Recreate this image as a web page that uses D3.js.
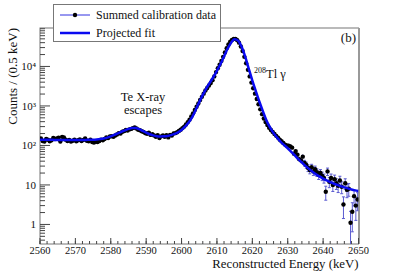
<!DOCTYPE html>
<html><head><meta charset="utf-8">
<script src="https://cdn.jsdelivr.net/npm/d3@7"></script>
<style>body{margin:0;background:#fff}</style>
</head><body><svg id="c" width="399" height="272" font-family="Liberation Serif, DejaVu Serif, serif"></svg>
<script>
// ---- data ----
const dataStart = 2560.25, binWidth = 0.5;
const dataCounts = [
150,130,125,145,140,128,135,155,145,150,158,125,165,160,140,130,138,125,132,140,
128,135,142,130,138,150,132,128,140,122,118,125,122,130,140,135,145,160,155,168,
172,165,178,190,205,200,222,230,245,240,255,262,275,285,268,250,242,228,220,205,
198,210,185,192,178,165,182,155,170,178,165,182,160,185,178,200,205,215,232,250,
275,300,340,390,450,540,650,790,950,1150,1420,1700,2050,2450,2850,3300,3800,4500,5600,7200,
9000,11000,13800,17500,22500,29000,36000,42000,47000,50000,49500,46000,40000,32000,24500,17500,12000,8200,5600,3900,
2800,2050,1500,1100,820,620,480,390,330,280,245,220,195,175,158,140,128,115,105,100,
98,95,88,62,72,58,45,42,52,36,32,27,24,28,22,25,21,18,20,17,
15,6.7,22,12,15,10,14,11,9.5,13,9,3.2,11,7.5,8,1.1,2.1,5.2,3.0,4.3
];
const fitEnergy = d3.range(2560, 2651, 1);
const fitValues = [
140,140,139,139,138,138,138,137,137,137,
137,137,137,138,139,140,142,145,150,158,
170,185,203,222,242,262,278,275,258,234,
210,192,180,172,169,170,174,182,196,215,
245,300,380,520,800,1250,1900,2800,3900,5400,
7800,11500,18000,28000,40000,48500,45000,31000,17500,8700,
4400,2350,1280,730,430,285,205,158,124,102,
85,69,56,45,37,30.5,25.5,21.5,18.5,16.5,
14.5,13,11.8,10.8,10,9.3,8.7,8.2,7.7,7.3,7
];
const xTicks = [2560,2570,2580,2590,2600,2610,2620,2630,2640,2650];
const yTicks = [1,10,100,1000,10000];
const yTickLabels = ["1","10","10²","10³","10⁴"];

// ---- layout ----
const svg = d3.select("#c");
const L = 40, R = 358.5, T = 28, B = 244;
const x = d3.scaleLinear().domain([2560, 2650]).range([L, R]);
const y = d3.scaleLog().domain([0.32, 94000]).range([B, T]);

svg.append("defs").append("clipPath").attr("id","clip")
  .append("rect").attr("x",L).attr("y",T).attr("width",R-L).attr("height",B-T);

// frame
svg.append("rect").attr("x",L).attr("y",T).attr("width",R-L).attr("height",B-T)
  .attr("fill","none").attr("stroke","#777").attr("stroke-width",1);
svg.append("line").attr("x1",R+0.5).attr("x2",R+0.5).attr("y1",T).attr("y2",B)
  .attr("stroke","#999").attr("stroke-width",2);

// x axis ticks (inside)
const xMinor = d3.range(2560, 2651, 2);
const gx = svg.append("g");
gx.selectAll("line.mn").data(xMinor).join("line")
  .attr("x1",d=>x(d)).attr("x2",d=>x(d)).attr("y1",B).attr("y2",B-3)
  .attr("stroke","#444").attr("stroke-width",1);
gx.selectAll("line.mj").data(xTicks).join("line")
  .attr("x1",d=>x(d)).attr("x2",d=>x(d)).attr("y1",B).attr("y2",B-6)
  .attr("stroke","#444").attr("stroke-width",1);
gx.selectAll("text").data(xTicks).join("text")
  .attr("x",d=>x(d)).attr("y",B+9.5).attr("text-anchor","middle")
  .attr("font-size",10.5).attr("fill","#111").text(d=>d);

// y axis ticks (inside)
const yMinor = [];
for (let e = -1; e <= 4; e++) for (let m = 2; m <= 9; m++) {
  const v = m * Math.pow(10, e);
  if (v >= 0.32 && v <= 94000) yMinor.push(v);
}
const gy = svg.append("g");
gy.selectAll("line.mn").data(yMinor).join("line")
  .attr("x1",L).attr("x2",L+5).attr("y1",d=>y(d)).attr("y2",d=>y(d))
  .attr("stroke","#444").attr("stroke-width",1);
gy.selectAll("line.mj").data(yTicks).join("line")
  .attr("x1",L).attr("x2",L+10).attr("y1",d=>y(d)).attr("y2",d=>y(d))
  .attr("stroke","#444").attr("stroke-width",1);
gy.selectAll("text").data(yTicks).join("text")
  .attr("x",L-4).attr("y",d=>y(d)+4).attr("text-anchor","end")
  .attr("font-size",11).attr("fill","#111").text((d,i)=>yTickLabels[i]);

// axis titles
svg.append("text").attr("transform",`translate(17,${T}) rotate(-90)`)
  .attr("text-anchor","end").attr("font-size",13).attr("fill","#111")
  .text("Counts / (0.5 keV)");
svg.append("text").attr("x",R).attr("y",267.5).attr("text-anchor","end")
  .attr("font-size",12.8).attr("fill","#111").text("Reconstructed Energy (keV)");

// data
const pts = dataCounts.map((v,i)=>({e: dataStart + i*binWidth, v}));
const plot = svg.append("g").attr("clip-path","url(#clip)");
plot.selectAll("line.err").data(pts).join("line")
  .attr("x1",d=>x(d.e)).attr("x2",d=>x(d.e))
  .attr("y1",d=>y(d.v + Math.sqrt(d.v)))
  .attr("y2",d=>y(Math.max(0.01, d.v - Math.sqrt(d.v))))
  .attr("stroke","#5a5ad0").attr("stroke-width",1);
const capw = 1.5;
plot.selectAll("line.cu").data(pts.filter(d=>d.v<40)).join("line")
  .attr("x1",d=>x(d.e)-capw).attr("x2",d=>x(d.e)+capw)
  .attr("y1",d=>y(d.v + Math.sqrt(d.v))).attr("y2",d=>y(d.v + Math.sqrt(d.v)))
  .attr("stroke","#5a5ad0").attr("stroke-width",1);
plot.selectAll("line.cl").data(pts.filter(d=>d.v<40 && d.v-Math.sqrt(d.v)>0.3)).join("line")
  .attr("x1",d=>x(d.e)-capw).attr("x2",d=>x(d.e)+capw)
  .attr("y1",d=>y(d.v - Math.sqrt(d.v))).attr("y2",d=>y(d.v - Math.sqrt(d.v)))
  .attr("stroke","#5a5ad0").attr("stroke-width",1);
plot.selectAll("circle").data(pts).join("circle")
  .attr("cx",d=>x(d.e)).attr("cy",d=>y(d.v)).attr("r",2.2).attr("fill","#000");

// fit
const fitPts = fitEnergy.map((e,i)=>[e, fitValues[i]]);
plot.append("path").datum(fitPts)
  .attr("d", d3.line().x(d=>x(d[0])).y(d=>y(d[1])).curve(d3.curveMonotoneX))
  .attr("fill","none").attr("stroke","#0a0af0").attr("stroke-width",2.5);

// annotations
svg.append("text").attr("x",143).attr("y",101).attr("text-anchor","middle")
  .attr("font-size",12.5).attr("fill","#111").text("Te X-ray");
svg.append("text").attr("x",143).attr("y",114).attr("text-anchor","middle")
  .attr("font-size",12.5).attr("fill","#111").text("escapes");
const tl = svg.append("text").attr("x",254).attr("y",78).attr("font-size",12.5).attr("fill","#111");
tl.append("tspan").attr("font-size",8).attr("dy",-5).text("208");
tl.append("tspan").attr("dy",5).text("Tl γ");
svg.append("text").attr("x",356).attr("y",42).attr("text-anchor","end")
  .attr("font-size",13).attr("fill","#111").text("(b)");

// legend
const lg = svg.append("g");
lg.append("rect").attr("x",53.5).attr("y",4.5).attr("width",167).attr("height",37)
  .attr("fill","#fff").attr("stroke","#777").attr("stroke-width",1);
lg.append("line").attr("x1",60).attr("x2",90).attr("y1",15).attr("y2",15)
  .attr("stroke","#3030e0").attr("stroke-width",1);
lg.append("circle").attr("cx",75).attr("cy",15).attr("r",2.2).attr("fill","#000");
lg.append("text").attr("x",96).attr("y",19).attr("font-size",12).attr("fill","#111")
  .text("Summed calibration data");
lg.append("line").attr("x1",60).attr("x2",90).attr("y1",33).attr("y2",33)
  .attr("stroke","#0a0af0").attr("stroke-width",2.5);
lg.append("text").attr("x",96).attr("y",37).attr("font-size",12).attr("fill","#111")
  .text("Projected fit");
</script></body></html>
